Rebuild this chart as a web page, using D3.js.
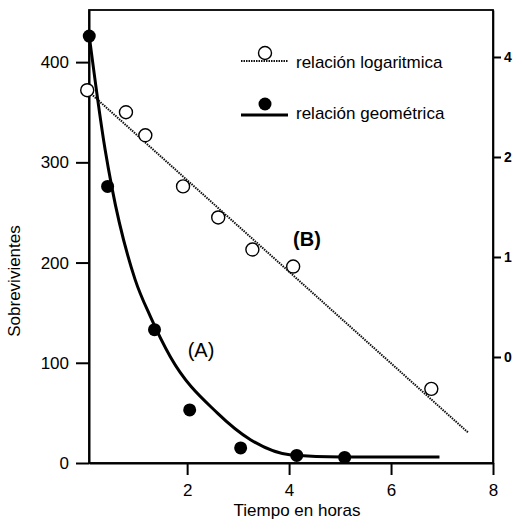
<!DOCTYPE html>
<html>
<head>
<meta charset="utf-8">
<script src="https://cdn.jsdelivr.net/npm/d3@7"></script>
<style>
  body { margin: 0; background: #fff; }
  text { font-family: "Liberation Sans", Arial, sans-serif; fill: #000; }
</style>
</head>
<body>
<div id="chart"></div>
<script>
// datos
const logTime = [0.04, 0.80, 1.18, 1.92, 2.61, 3.28, 4.08, 6.79];
const logSurv = [372, 350, 327, 276, 245, 213, 196, 74];

const geoTime = [0.08, 0.44, 1.36, 2.05, 3.05, 4.15, 5.09];
const geoSurv = [426, 276, 133, 53, 15, 7.6, 5.6];

// recta ajustada (B)
const fitTime = [0.08, 7.52];
const fitSurv = [370, 30];

// curva ajustada (A)
const curveTime = [0.08, 0.39, 0.52, 0.98, 1.28, 1.67, 2.59, 3.25, 4.04, 5.02, 6.95];
const curveSurv = [426, 313, 276, 183, 146, 106, 50, 23, 8, 6, 6];

const xTicks = [2, 4, 6, 8];
const yTicks = [0, 100, 200, 300, 400];
const rightTicks = [4, 2, 1, 0.5];
const rightLabels = ["4", "2", "1", "0"];

const W = 521, H = 525;
const mLeft = 89, mRight = 493, mTop = 10, mBottom = 463;

const svg = d3.select("#chart").append("svg")
    .attr("width", W).attr("height", H);

let x = d3.scaleLinear().domain([0.075, 8]).range([mLeft, mRight]);
let y = d3.scaleLinear().domain([0, 452]).range([mBottom, mTop]);
let yr = d3.scaleLog().base(2).domain([0.2398, 5.54]).range([mBottom, mTop]);

// marco
svg.append("rect")
    .attr("x", mLeft).attr("y", mTop)
    .attr("width", mRight - mLeft).attr("height", mBottom - mTop)
    .attr("fill", "none").attr("stroke", "#000").attr("stroke-width", 1.8);

let xAxis = svg.append("g")
    .attr("transform", "translate(0," + mBottom + ")")
    .call(d3.axisBottom(x).tickValues(xTicks).tickSize(12).tickSizeOuter(0).tickPadding(9));
let yAxis = svg.append("g")
    .attr("transform", "translate(" + mLeft + ",0)")
    .call(d3.axisLeft(y).tickValues(yTicks).tickSize(13).tickSizeOuter(0).tickPadding(7));
let rAxis = svg.append("g")
    .attr("transform", "translate(" + mRight + ",0)")
    .call(d3.axisRight(yr).tickValues(rightTicks)
        .tickFormat((d, i) => rightLabels[i]).tickSize(8).tickSizeOuter(0).tickPadding(3));

[xAxis, yAxis, rAxis].forEach(g => {
    g.select(".domain").attr("stroke", "#000").attr("stroke-width", 2);
    g.selectAll(".tick line").attr("stroke", "#000").attr("stroke-width", 2);
    g.selectAll(".tick text")
        .attr("font-family", "Liberation Sans, Arial, sans-serif")
        .attr("font-size", 17).attr("fill", "#000");
});
rAxis.selectAll(".tick text").attr("font-weight", "bold").attr("font-size", 14);
rAxis.select(".domain").attr("stroke-width", 1.6);

// recta punteada (B)
let fit = fitTime.map((t, i) => [t, fitSurv[i]]);
svg.append("path")
    .datum(fit)
    .attr("d", d3.line().x(d => x(d[0])).y(d => y(d[1])))
    .attr("fill", "none").attr("stroke", "#111")
    .attr("stroke-width", 2).attr("stroke-dasharray", "1.5,1");

// curva (A)
let curve = curveTime.map((t, i) => [t, curveSurv[i]]);
svg.append("path")
    .datum(curve)
    .attr("d", d3.line().x(d => x(d[0])).y(d => y(d[1])).curve(d3.curveMonotoneX))
    .attr("fill", "none").attr("stroke", "#000").attr("stroke-width", 3);

// puntos
svg.selectAll(".open").data(logTime).enter()
    .append("circle").attr("class", "open")
    .attr("cx", d => x(d)).attr("cy", (d, i) => y(logSurv[i]))
    .attr("r", 6.5).attr("fill", "#fff").attr("stroke", "#000").attr("stroke-width", 1.4);

svg.selectAll(".filled").data(geoTime).enter()
    .append("circle").attr("class", "filled")
    .attr("cx", d => x(d)).attr("cy", (d, i) => y(geoSurv[i]))
    .attr("r", 6.5).attr("fill", "#000");

// leyenda
let leg = svg.append("g");
leg.append("line").attr("x1", 241).attr("x2", 288).attr("y1", 61).attr("y2", 61)
    .attr("stroke", "#111").attr("stroke-width", 2).attr("stroke-dasharray", "1.5,1");
leg.append("circle").attr("cx", 265).attr("cy", 53).attr("r", 6.5)
    .attr("fill", "#fff").attr("stroke", "#000").attr("stroke-width", 1.4);
leg.append("text").attr("x", 296).attr("y", 68).attr("font-size", 17).text("relación logaritmica");

leg.append("line").attr("x1", 241).attr("x2", 288).attr("y1", 115).attr("y2", 115)
    .attr("stroke", "#000").attr("stroke-width", 3);
leg.append("circle").attr("cx", 265).attr("cy", 104).attr("r", 6.5).attr("fill", "#000");
leg.append("text").attr("x", 296).attr("y", 119).attr("font-size", 17).text("relación geométrica");

// rotulos
svg.append("text").attr("x", 201).attr("y", 357).attr("text-anchor", "middle")
    .attr("font-size", 20).text("(A)");
svg.append("text").attr("x", 307).attr("y", 246).attr("text-anchor", "middle")
    .attr("font-size", 20).attr("font-weight", "bold").text("(B)");

svg.append("text").attr("x", 297).attr("y", 516).attr("text-anchor", "middle")
    .attr("font-size", 17).text("Tiempo en horas");
svg.append("text")
    .attr("transform", "translate(20,281) rotate(-90)")
    .attr("text-anchor", "middle").attr("font-size", 17).text("Sobrevivientes");
</script>
</body>
</html>
